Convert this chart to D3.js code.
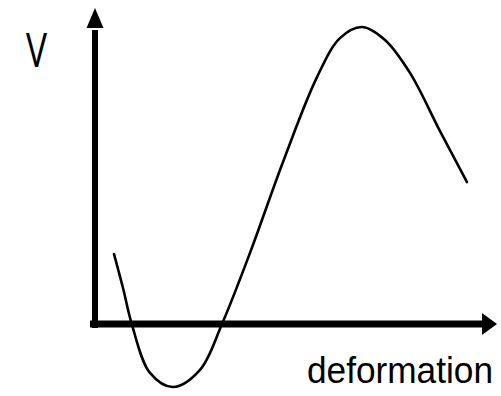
<!DOCTYPE html>
<html>
<head>
<meta charset="utf-8">
<script src="https://cdn.jsdelivr.net/npm/d3@7"></script>
<style>
  html, body { margin: 0; padding: 0; background: #fff; }
  svg { display: block; }
</style>
</head>
<body>
<svg id="chart" width="501" height="396"></svg>
<script>
// Data (arbitrary units)
const deformation = [4.75, 7, 9.25, 13.75, 19.5, 26.25, 31.75, 38.75, 47, 55.5, 61.25, 66.75, 72.5, 78.75, 86.25, 93];
const potential   = [23.3, 12, -0.3, -16.3, -21, -15.3, 0, 23.7, 54, 82.3, 95.3, 99, 94.7, 83.7, 64.3, 47.3];
const xLabel = "deformation";
const yLabel = "V";

const svg = d3.select("#chart");
const x = d3.scaleLinear().domain([0, 100]).range([95, 495]);
const y = d3.scaleLinear().domain([0, 100]).range([324, 24]);

// Axes
const g = svg.append("g");
g.append("line")
  .attr("x1", x(0)).attr("x2", x(0))
  .attr("y1", y(-1.3)).attr("y2", y(98))
  .attr("stroke", "#000").attr("stroke-width", 6);
g.append("path")
  .attr("d", `M${x(0)},${y(105.3)} L${x(0) + 8.5},${y(98.7)} L${x(0) - 8.5},${y(98.7)} Z`)
  .attr("fill", "#000");
g.append("line")
  .attr("x1", x(-1.25)).attr("x2", x(97))
  .attr("y1", y(0)).attr("y2", y(0))
  .attr("stroke", "#000").attr("stroke-width", 7);
g.append("path")
  .attr("d", `M${x(100.5)},${y(0)} L${x(96.75)},${y(0) - 11} L${x(96.75)},${y(0) + 11} Z`)
  .attr("fill", "#000");

// Curve
const pts = deformation.map((d, i) => [d, potential[i]]);
const line = d3.line().x(d => x(d[0])).y(d => y(d[1])).curve(d3.curveCatmullRom.alpha(0.5));
svg.append("path")
  .datum(pts)
  .attr("d", line)
  .attr("fill", "none")
  .attr("stroke", "#000")
  .attr("stroke-width", 2.6)
  .attr("stroke-linecap", "round");

// Labels
svg.append("text")
  .attr("x", 26).attr("y", 67)
  .attr("font-family", "'Open Sans', 'Liberation Sans', sans-serif")
  .attr("font-size", 47)
  .attr("textLength", 21)
  .attr("lengthAdjust", "spacingAndGlyphs")
  .attr("fill", "#000")
  .text(yLabel);

svg.append("text")
  .attr("x", 307).attr("y", 383)
  .attr("font-family", "'Liberation Sans', Arial, sans-serif")
  .attr("font-size", 37)
  .attr("textLength", 186)
  .attr("lengthAdjust", "spacingAndGlyphs")
  .attr("fill", "#000")
  .text(xLabel);
</script>
</body>
</html>
